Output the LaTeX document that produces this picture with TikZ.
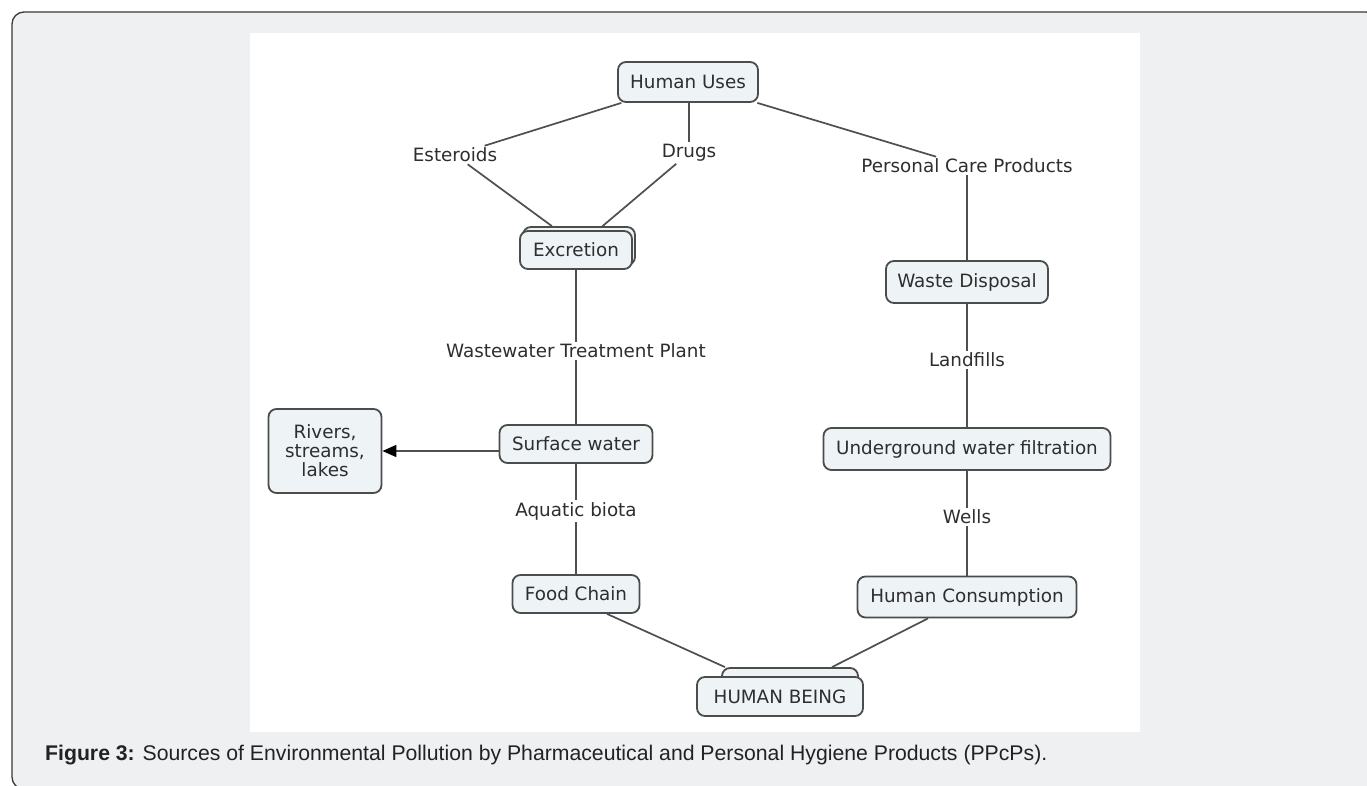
\documentclass[tikz,border=0pt]{standalone}
\usepackage{fontspec}
\setmainfont{Liberation Sans}
\newfontfamily\diagfont{DejaVu Sans}
\usetikzlibrary{arrows.meta}
\definecolor{pagebg}{HTML}{EFF0F2}
\definecolor{frameline}{HTML}{3A3A3A}
\definecolor{boxfill}{HTML}{EEF3F6}
\definecolor{boxline}{HTML}{4C4C4C}
\definecolor{txt}{HTML}{2E2E2E}
\definecolor{linkline}{HTML}{4F4F4F}
\definecolor{capcol}{HTML}{222222}
\newcommand\dfont{\diagfont\fontsize{18.4}{19}\selectfont}
\begin{document}
\begin{tikzpicture}[x=1bp,y=-1bp,
  cbox/.style={draw=boxline,line width=1.8bp,fill=boxfill,rounded corners=8bp,
               text=txt,font=\dfont,inner sep=0pt,align=center},
  lbl/.style={text=txt,font=\dfont,inner sep=2bp},
  link/.style={draw=linkline,line width=1.7bp}]
\useasboundingbox (0,0) rectangle (1367,785);
\filldraw[fill=pagebg,draw=frameline,line width=1.3bp,rounded corners=12bp] (12,12) rectangle (1378,789);
\fill[white] (250,33) rectangle (1140,732);

% boxes
\node[cbox,minimum width=140bp,minimum height=40bp] (hu) at (688,82) {Human Uses};
\node[cbox,minimum width=112bp,minimum height=38bp] (exb) at (579,246) {};
\node[cbox,minimum width=112bp,minimum height=38bp] (exc) at (576,250) {Excretion};
\node[cbox,minimum width=162bp,minimum height=42bp] (wd) at (967,282) {Waste Disposal};
\node[cbox,minimum width=287bp,minimum height=42bp] (uwf) at (967,449) {Underground water filtration};
\node[cbox,minimum width=219bp,minimum height=41bp] (hc) at (967,597) {Human Consumption};
\node[cbox,minimum width=153bp,minimum height=38bp] (sw) at (576,444) {Surface water};
\node[cbox,minimum width=113bp,minimum height=84bp] (rv) at (325,451) {Rivers,\\streams,\\lakes};
\node[cbox,minimum width=127bp,minimum height=38bp] (fc) at (576,594) {Food Chain};
\node[cbox,minimum width=136bp,minimum height=40bp] (hbb) at (790,688) {};
\node[cbox,minimum width=166bp,minimum height=39bp] (hb) at (780,696.5) {HUMAN BEING};

% link labels
\node[lbl] (est) at (455,155) {Esteroids};
\node[lbl] (drg) at (689,153) {Drugs};
\node[lbl] (pcp) at (967,166) {Personal Care Products};
\node[lbl] (wtp) at (576,351) {Wastewater Treatment Plant};
\node[lbl] (lf) at (967,360) {Landfills};
\node[lbl] (wl) at (967,517) {Wells};
\node[lbl] (aq) at (576,511) {Aquatic biota};

% connectors
\draw[link] (hu) -- (est);
\draw[link] (est) -- (exb);
\draw[link] (drg |- hu.south) -- (drg);
\draw[link] (drg) -- (exb);
\draw[link] (hu) -- (pcp);
\draw[link] (pcp) -- (wd);
\draw[link] (wd) -- (lf);
\draw[link] (lf) -- (uwf);
\draw[link] (uwf) -- (wl);
\draw[link] (wl) -- (hc);
\draw[link] (exc) -- (wtp);
\draw[link] (wtp) -- (sw);
\draw[link] (sw) -- (aq);
\draw[link] (aq) -- (fc);
\draw[link,-{Triangle[length=14bp,width=12bp,color=black]}] (sw.west |- rv.east) -- (rv.east);
\draw[link] ([xshift=31bp]fc.south) -- ([xshift=-65bp]hbb.north);
\draw[link] ([xshift=-39bp]hc.south) -- ([xshift=42bp]hbb.north);

% caption
\node[anchor=base west,text=capcol,font=\fontsize{21.3}{24}\selectfont,inner sep=0pt] (cap) at (45,760)
  {\textbf{Figure 3:} Sources of Environmental Pollution by Pharmaceutical and Personal Hygiene Products (PPcPs).};
\end{tikzpicture}
\end{document}
